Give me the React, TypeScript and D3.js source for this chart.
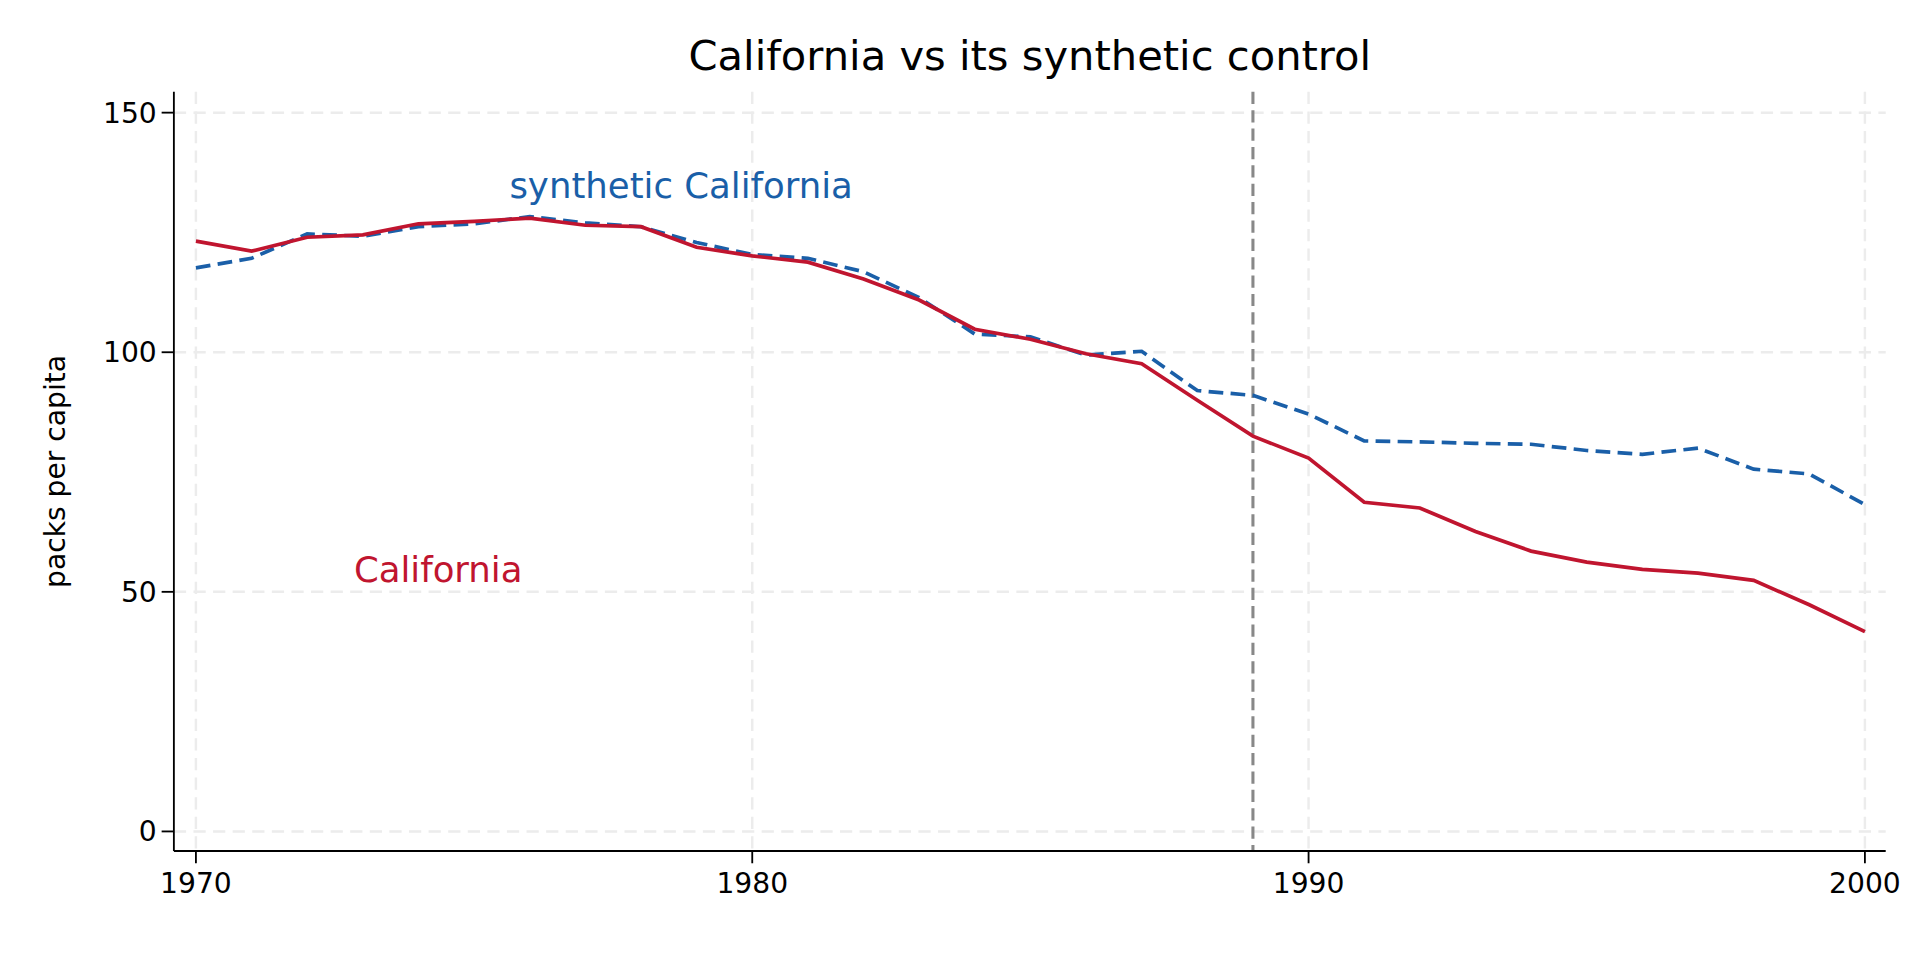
import React from 'react';
import * as d3 from 'd3';

const years = d3.range(1970, 2001);
const california = [123.2, 121.1, 124, 124.5, 126.8, 127.3, 128, 126.5, 126.2, 121.9, 120.1, 118.8, 115.3, 110.9, 104.8, 102.7, 99.7, 97.6, 90, 82.5, 77.9, 68.7, 67.5, 62.6, 58.5, 56.2, 54.7, 53.9, 52.4, 47.3, 41.7];
const synthetic = [117.6, 119.6, 124.7, 124.2, 126.2, 126.8, 128.3, 127, 126.2, 122.9, 120.4, 119.6, 116.8, 111.4, 103.8, 103.2, 99.4, 100.2, 92, 91, 87.1, 81.5, 81.3, 81, 80.8, 79.5, 78.7, 80, 75.6, 74.6, 68.2];
const xTicks = [1970, 1980, 1990, 2000];
const yTicks = [0, 50, 100, 150];
const treatYear = 1989;

const W = 1568, H = 784;
const RED = '#c0152f', BLUE = '#1a5fa8';
const FONT = 'DejaVu Sans, sans-serif';

export default function App() {
  const x = d3.scaleLinear().domain([1970, 2000]).range([160, 1523]);
  const y = d3.scaleLinear().domain([0, 150]).range([679, 92]);
  const line = (vals: number[]) =>
    d3.line<number>().x((_, i) => x(years[i])).y(v => y(v))(vals) || '';
  const axisL = 142, axisB = 695;
  return (
    <svg width={1920} height={960} viewBox={`0 0 ${W} ${H}`}
      style={{ position: 'absolute', left: 0, top: 0, background: '#fff' }} fontFamily={FONT}>
      <text x={841} y={57} textAnchor="middle" fontSize={34}>California vs its synthetic control</text>
      {yTicks.map(t => (
        <g key={'y' + t}>
          <line x1={axisL} x2={1540} y1={y(t)} y2={y(t)} stroke="#ececec" strokeWidth={2} strokeDasharray="10 6" />
          <line x1={axisL - 10} x2={axisL} y1={y(t)} y2={y(t)} stroke="#000" strokeWidth={1.5} />
          <text x={axisL - 14} y={y(t)} dy="0.35em" textAnchor="end" fontSize={23}>{t}</text>
        </g>
      ))}
      {xTicks.map(t => (
        <g key={'x' + t}>
          <line x1={x(t)} x2={x(t)} y1={75} y2={axisB} stroke="#ececec" strokeWidth={2} strokeDasharray="10 6" />
          <line x1={x(t)} x2={x(t)} y1={axisB} y2={axisB + 10} stroke="#000" strokeWidth={1.5} />
          <text x={x(t)} y={axisB + 34} textAnchor="middle" fontSize={23}>{t}</text>
        </g>
      ))}
      <line x1={x(treatYear)} x2={x(treatYear)} y1={75} y2={axisB} stroke="#888" strokeWidth={2.5} strokeDasharray="10 5" />
      <path d={line(synthetic)} fill="none" stroke={BLUE} strokeWidth={3} strokeDasharray="12 6" />
      <path d={line(california)} fill="none" stroke={RED} strokeWidth={3} />
      <line x1={axisL} x2={axisL} y1={75} y2={axisB} stroke="#000" strokeWidth={1.5} />
      <line x1={axisL} x2={1540} y1={axisB} y2={axisB} stroke="#000" strokeWidth={1.5} />
      <text transform={`translate(53,385) rotate(-90)`} textAnchor="middle" fontSize={23}>packs per capita</text>
      <text x={416} y={162} fontSize={29} fill={BLUE}>synthetic California</text>
      <text x={289} y={475} fontSize={29} fill={RED}>California</text>
    </svg>
  );
}
